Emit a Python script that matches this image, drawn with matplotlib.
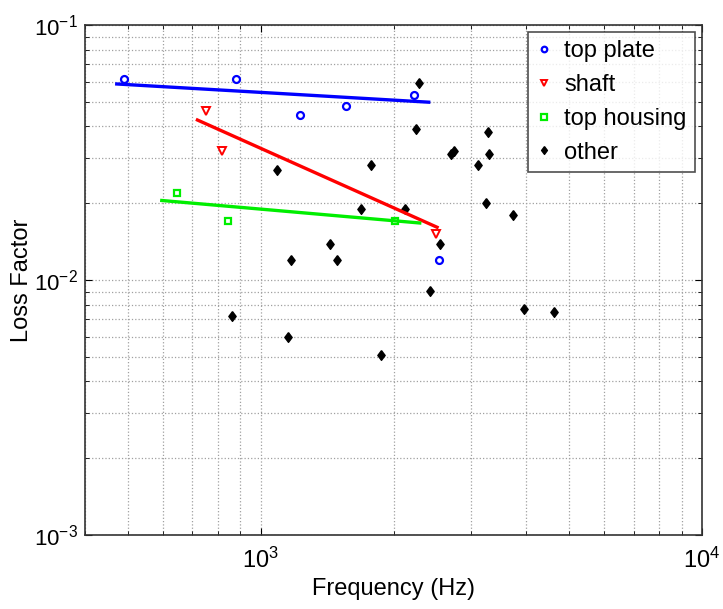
import numpy as np
import matplotlib
matplotlib.use("Agg")
import matplotlib.pyplot as plt

plt.rcParams['font.family'] = ['Liberation Sans', 'DejaVu Sans']
plt.rcParams['mathtext.default'] = 'regular'

# top plate
plate_f = [490, 877, 1225, 1557, 2227, 2541]
plate_loss = [0.0612, 0.0612, 0.0442, 0.0480, 0.0531, 0.0120]
plate_fit_f = [472, 2403]
plate_fit_loss = [0.0587, 0.0498]

# shaft
shaft_f = [752, 816, 2501]
shaft_loss = [0.0461, 0.0321, 0.0151]
shaft_fit_f = [719, 2510]
shaft_fit_loss = [0.0424, 0.0161]

# top housing
housing_f = [647, 842, 2013]
housing_loss = [0.0220, 0.0171, 0.0170]
housing_fit_f = [597, 2293]
housing_fit_loss = [0.0205, 0.01673]

# other
other_f = [1089, 2286, 2246, 3280, 2737, 2700, 3292, 1780, 3108, 3234, 1690, 2118,
           3730, 1433, 2545, 1169, 1486, 2421, 3941, 4618, 860, 1153, 1878]
other_loss = [0.0269, 0.0594, 0.0392, 0.0382, 0.0321, 0.0312, 0.0311, 0.0282, 0.0282,
              0.0201, 0.0190, 0.0190, 0.0180, 0.01388, 0.0139, 0.01198, 0.0120, 0.00903,
              0.00772, 0.00751, 0.00724, 0.00599, 0.00508]

# matlab-ish diamond, a bit taller than wide
diamond = [(0, 1), (0.75, 0), (0, -1), (-0.75, 0), (0, 1)]

fig = plt.figure(figsize=(7.23, 6.09), dpi=100)
ax = fig.add_axes([0.1176, 0.1215, 0.8534, 0.8375])

ax.plot(plate_f, plate_loss, 'o', mfc='none', mec='blue', mew=1.6, ms=5, label='top plate')
ax.plot(shaft_f, shaft_loss, 'v', mfc='none', mec='red', mew=1.4, ms=6, label='shaft')
ax.plot(housing_f, housing_loss, 's', mfc='none', mec='#00ee00', mew=1.6, ms=5, label='top housing')
ax.plot(other_f, other_loss, marker=diamond, ls='none', color='black', ms=7, label='other')

ax.plot(plate_fit_f, plate_fit_loss, '-', color='blue', lw=2.4)
ax.plot(shaft_fit_f, shaft_fit_loss, '-', color='red', lw=2.4)
ax.plot(housing_fit_f, housing_fit_loss, '-', color='#00ee00', lw=2.4)

ax.set_xscale('log')
ax.set_yscale('log')
ax.set_xlim(400, 1e4)
ax.set_ylim(1e-3, 1e-1)

ax.grid(True, which='both', linestyle=':', color='#a0a0a0', linewidth=0.9)
ax.tick_params(which='both', direction='in', top=True, right=True)
ax.tick_params(axis='x', pad=9, labelsize=17)
ax.tick_params(axis='y', pad=5, labelsize=16)
ax.tick_params(which='major', length=5)
ax.tick_params(which='minor', length=3)
for s in ax.spines.values():
    s.set_color('#333333')
    s.set_linewidth(1.2)

ax.set_xlabel('Frequency (Hz)', fontsize=17, labelpad=4)
ax.set_ylabel('Loss Factor', fontsize=17)
ax.yaxis.set_label_coords(-0.084, 0.5)

leg = ax.legend(loc='upper right', fontsize=17, fancybox=False, edgecolor='#222222',
                handlelength=0.7, handletextpad=0.5, borderpad=0.35, labelspacing=0.5,
                borderaxespad=0.3, markerscale=0.8)
leg.get_frame().set_linewidth(1.2)

fig.savefig('out.png', dpi=100)
